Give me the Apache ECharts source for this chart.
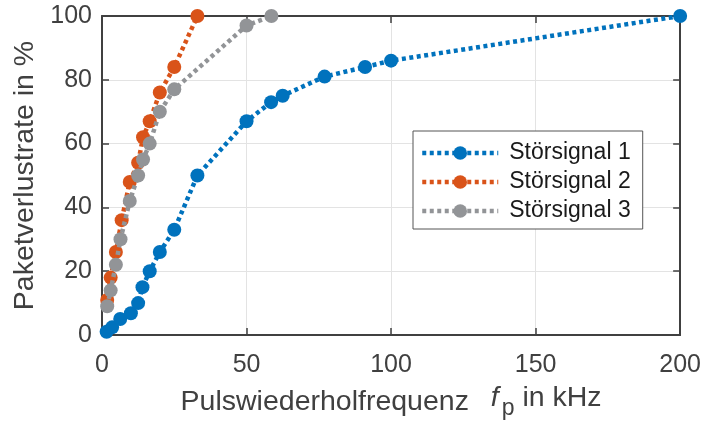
<!DOCTYPE html>
<html>
<head>
<meta charset="utf-8">
<script src="https://cdn.jsdelivr.net/npm/echarts@6/dist/echarts.min.js"></script>
<style>
html,body{margin:0;padding:0;background:#fff;}
#c{width:704px;height:425px;}
</style>
</head>
<body>
<div id="c"></div>
<script>
// Data (kHz, %)
const s1x = [1.6, 3.5, 6.3, 10, 12.5, 14, 16.5, 20, 25, 33, 50, 58.5, 62.5, 77, 91, 100, 200];
const s1y = [1, 2.4, 5, 6.8, 10, 15, 20, 26, 33, 50, 67, 73, 75, 81, 84, 86, 100];
const s2x = [1.8, 3, 4.8, 6.8, 9.6, 12.5, 14.2, 16.5, 20, 25, 33];
const s2y = [11, 18, 26, 36, 48, 54, 62, 67, 76, 84, 100];
const s3x = [1.8, 3, 4.8, 6.4, 9.6, 12.5, 14.2, 16.5, 20, 25, 50, 58.6];
const s3y = [9, 14, 22, 30, 42, 50, 55, 60, 70, 77, 97, 100];
const seriesNames = ['Störsignal 1', 'Störsignal 2', 'Störsignal 3'];
const xTicks = [0, 50, 100, 150, 200];
const yTicks = [0, 20, 40, 60, 80, 100];

const colors = ['#0072BD', '#D95319', '#929497'];
const FONT = '"Liberation Sans", Arial, Helvetica, sans-serif';
const AX = '#404040';

function pairs(xs, ys) { return xs.map((x, i) => [x, ys[i]]); }
const allData = [pairs(s1x, s1y), pairs(s2x, s2y), pairs(s3x, s3y)];

const chart = echarts.init(document.getElementById('c'), null, {renderer: 'canvas'});

function baseAxis(extra) {
  return Object.assign({
    axisLine: {show: true, onZero: false, lineStyle: {color: AX, width: 2}},
    axisTick: {show: true, inside: true, length: 7, lineStyle: {color: AX, width: 1.5}},
    splitLine: {show: false},
    axisLabel: {show: false}
  }, extra);
}

const option = {
  animation: false,
  backgroundColor: '#fff',
  textStyle: {fontFamily: FONT},
  grid: {left: 102, right: 20, top: 16, bottom: 87},
  legend: {
    orient: 'vertical',
    left: 413, top: 131,
    backgroundColor: '#fff',
    borderColor: '#555',
    borderWidth: 1,
    borderRadius: 0,
    padding: [10, 12, 6, 7],
    itemWidth: 76,
    itemHeight: 17,
    itemGap: 5,
    lineStyle: {width: 4.5, type: [4, 3.5]},
    textStyle: {fontFamily: FONT, fontSize: 23, color: '#1a1a1a', lineHeight: 24, padding: [0, 0, 0, 6]},
    data: seriesNames
  },
  xAxis: [
    baseAxis({
      type: 'value', position: 'bottom', min: 0, max: 200, interval: 50,
      splitLine: {show: true, lineStyle: {color: '#e3e3e3', width: 1}},
      axisLabel: {show: true, color: AX, fontSize: 25, fontFamily: FONT, margin: 18,
        formatter: v => xTicks.includes(v) ? String(v) : ''},
      name: 'Pulswiederholfrequenz  {i|f}{s|p} {n|in kHz}',
      nameLocation: 'middle',
      nameGap: 49,
      nameTextStyle: {
        color: AX, fontSize: 28.5, fontFamily: FONT, verticalAlign: 'top',
        rich: {
          i: {fontSize: 28.5, fontStyle: 'italic', color: AX, fontFamily: FONT, verticalAlign: 'top', padding: [0, 0, 0, 6]},
          s: {fontSize: 23, color: AX, fontFamily: FONT, verticalAlign: 'top', padding: [13, 0, 0, 3]},
          n: {fontSize: 28.5, color: AX, fontFamily: FONT, verticalAlign: 'top'}
        }
      }
    }),
    baseAxis({type: 'value', position: 'top', min: 0, max: 200, interval: 50})
  ],
  yAxis: [
    baseAxis({
      type: 'value', position: 'left', min: 0, max: 100, interval: 20,
      splitLine: {show: true, lineStyle: {color: '#e3e3e3', width: 1}},
      axisLabel: {show: true, color: AX, fontSize: 25, fontFamily: FONT, margin: 10,
        formatter: v => yTicks.includes(v) ? String(v) : ''},
      name: 'Paketverlustrate in %',
      nameLocation: 'middle',
      nameGap: 62,
      nameTextStyle: {color: AX, fontSize: 28.5, fontFamily: FONT}
    }),
    baseAxis({type: 'value', position: 'right', min: 0, max: 100, interval: 20})
  ],
  series: allData.map((d, i) => ({
    name: seriesNames[i],
    type: 'line',
    xAxisIndex: 0, yAxisIndex: 0,
    data: d,
    clip: false,
    symbol: 'circle',
    symbolSize: 14,
    showSymbol: true,
    itemStyle: {color: colors[i]},
    lineStyle: {color: colors[i], width: 4.5, type: [4, 3.5]},
    emphasis: {disabled: true},
    z: 2 + i
  }))
};
chart.setOption(option);
</script>
</body>
</html>
